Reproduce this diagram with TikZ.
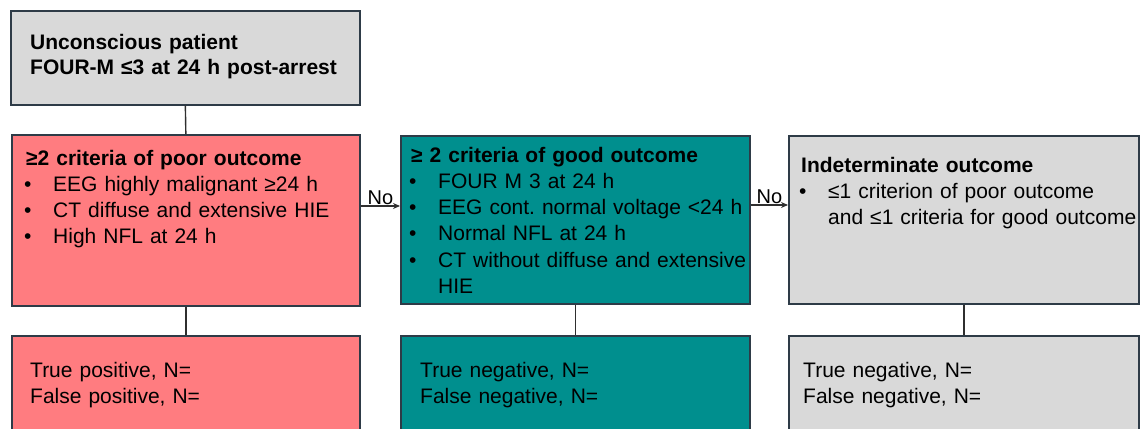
\documentclass[tikz,border=0pt]{standalone}
\usepackage{fontspec}
\setmainfont{Liberation Sans}
\usetikzlibrary{arrows.meta}
\frenchspacing
\definecolor{boxred}{HTML}{FF7C80}
\definecolor{boxteal}{HTML}{008F8E}
\definecolor{boxgrey}{HTML}{D9D9D9}
\definecolor{edgecol}{HTML}{2E3B47}
\definecolor{linecol}{HTML}{2F2F2F}
\newcommand\bulitem{\makebox[27pt][l]{\hspace{-2pt}•}}
\begin{document}
\begin{tikzpicture}[x=1pt,y=-1pt,
  box/.style={draw=edgecol, line width=1.7pt, rectangle, anchor=north west, inner sep=0pt},
  txt/.style={anchor=base west, inner sep=0pt, text width=#1, align=left, font=\fontsize{21}{26.3}\selectfont},
  conn/.style={draw=linecol, line width=1.4pt},
  arr/.style={conn, -{Stealth[length=7pt,width=6pt]}},
  lbl/.style={font=\fontsize{20}{24}\selectfont, inner sep=0.6pt, anchor=south}]
\useasboundingbox (0,0) rectangle (1142,428);
\clip (0,0) rectangle (1142,428);
% boxes
\node[box, fill=boxgrey, minimum width=349pt, minimum height=94pt] (top) at (10,10) {};
\node[box, fill=boxred, minimum width=348pt, minimum height=171pt] (red) at (11,134) {};
\node[box, fill=boxteal, minimum width=349pt, minimum height=168pt] (teal) at (400,135) {};
\node[box, fill=boxgrey, minimum width=350pt, minimum height=168pt] (grey) at (788,135) {};
\node[box, fill=boxred, minimum width=348pt, minimum height=120pt] (redb) at (11,335) {};
\node[box, fill=boxteal, minimum width=349pt, minimum height=120pt] (tealb) at (400,335) {};
\node[box, fill=boxgrey, minimum width=350pt, minimum height=120pt] (greyb) at (788,335) {};
% texts
\node[txt=330pt, font=\fontsize{21}{25}\selectfont\bfseries] (toptxt) at (30,49)
  {Unconscious patient\\FOUR-M ≤3 at 24 h post-arrest};
\node[txt=330pt] (redtxt) at (26,165)
  {\textbf{≥2 criteria of poor outcome}\\
   \bulitem EEG highly malignant ≥24 h\\
   \bulitem CT diffuse and extensive HIE\\
   \bulitem High NFL at 24 h};
\node[txt=340pt] (tealtxt) at (411,162)
  {\textbf{≥ 2 criteria of good outcome}\\
   \bulitem FOUR M 3 at 24 h\\
   \bulitem EEG cont. normal voltage <24 h\\
   \bulitem Normal NFL at 24 h\\
   \bulitem CT without diffuse and extensive\\
   \hspace*{27pt}HIE};
\node[txt=400pt] (greytxt) at (801,172)
  {\textbf{Indeterminate outcome}\\
   \bulitem ≤1 criterion of poor outcome\\
   \hspace*{27pt}and ≤1 criteria for good outcome};
\node[txt=320pt] (redbtxt) at (30,377) {True positive, N=\\False positive, N=};
\node[txt=320pt] (tealbtxt) at (420,377) {True negative, N=\\False negative, N=};
\node[txt=320pt] (greybtxt) at (803,377) {True negative, N=\\False negative, N=};
% connectors
\coordinate (y1) at (0,206);
\coordinate (y2) at (0,205);
\draw[conn] (top.south) -- (red.north);
\draw[conn] (red.south) -- (redb.north);
\draw[conn] (teal.south) -- (tealb.north);
\draw[conn] (grey.south) -- (greyb.north);
\draw[arr] (red.east |- y1) -- (teal.west |- y1) node[lbl, midway] (no1) {No};
\draw[arr] (teal.east |- y2) -- (grey.west |- y2) node[lbl, midway] (no2) {No};
\end{tikzpicture}
\end{document}
